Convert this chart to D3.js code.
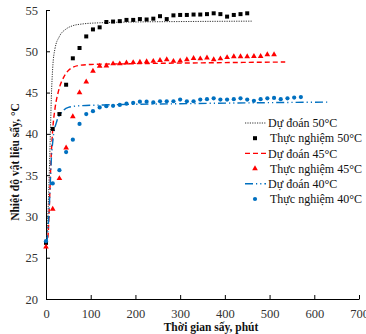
<!DOCTYPE html>
<html><head><meta charset="utf-8">
<script src="https://cdn.jsdelivr.net/npm/d3@7"></script>
<style>body{margin:0;background:#fff}svg{display:block}</style>
</head><body>
<svg id="c" width="366" height="334"></svg>
<script>
// ---- data ----
const xTicks = [0,100,200,300,400,500,600,700];
const yTicks = [20,25,30,35,40,45,50,55];
const times = d3.range(0, 571, 15); // sampling times (min)
const exp50 = [26.8,40.6,42.4,45.95,49.15,50.4,51.8,52.65,52.9,53.55,53.6,53.65,53.8,53.8,53.9,53.85,53.95,54.25,53.9,54.35,54.4,54.4,54.45,54.45,54.5,54.6,54.5,54.2,54.4,54.5,54.6];
const exp45 = [26.3,30.9,34.6,38.3,42.1,45.0,46.3,47.6,48.2,48.25,48.5,48.5,48.6,48.65,48.7,48.75,48.8,48.9,49.0,48.8,48.85,49.0,49.15,49.1,49.2,49.0,49.1,49.25,49.35,49.35,49.35,49.4,49.4,49.6,49.6];
const exp40 = [27.0,34.0,35.6,37.8,39.3,41.2,42.4,42.75,43.2,43.35,43.4,43.5,43.65,43.75,43.9,43.9,43.8,43.95,43.95,43.95,44.15,43.95,43.95,44.15,44.2,44.3,44.15,44.15,44.2,44.3,44.15,44.0,44.2,44.3,44.35,44.2,44.3,44.4,44.45];
const predT50 = [0,3,6,8,10,12,15,20,30,45,60,80,120,200,300,460];
const predV50 = [26.8,28.5,33,36.5,40.5,44.5,48,50.3,51.8,52.7,53.1,53.3,53.45,53.55,53.6,53.65];
const predT45 = [0,3,5,8,11,15,20,28,40,55,75,100,200,350,535];
const predV45 = [26.5,27,28,32,36.5,40.5,43,45.2,46.9,47.9,48.3,48.4,48.5,48.6,48.7];
const predT40 = [0,2,4,8,12,16,24,35,50,75,130,300,632];
const predV40 = [26.8,27,28,32,37,39.5,41.5,42.6,43.2,43.4,43.5,43.65,43.85];
const legendLabels = ["Dự đoán 50°C","Thực nghiệm  50°C","Dự đoán 45°C","Thực nghiệm  45°C","Dự đoán  40°C","Thực nghiệm  40°C"];

const red = "#ff0000", blue = "#0070c0", black = "#000";

const svg = d3.select("#c");
const x = d3.scaleLinear().domain([0,700]).range([46,359]);
const y = d3.scaleLinear().domain([20,55]).range([299,10]);
const font = "'Liberation Serif','Times New Roman',serif";

// axes
const gx = svg.append("g").attr("transform","translate(0,299)")
  .call(d3.axisBottom(x).tickValues(xTicks).tickSizeInner(-4).tickSizeOuter(0).tickPadding(10));
const gy = svg.append("g").attr("transform","translate(46,0)")
  .call(d3.axisLeft(y).tickValues(yTicks).tickSizeInner(-4).tickSizeOuter(0).tickPadding(8));
[gx,gy].forEach(g=>{
  g.selectAll("path,line").attr("stroke","#000").attr("stroke-width",1);
  g.selectAll("text").attr("font-family",font).attr("font-size",12.5).attr("fill","#333");
});

// prediction lines
const line = d3.line().x(d=>x(d[0])).y(d=>y(d[1])).curve(d3.curveMonotoneX);
const preds = [
  {t:predT50,v:predV50,color:"#333",dash:"1.2,1.2",w:1},
  {t:predT45,v:predV45,color:red,dash:"5,3",w:1.4},
  {t:predT40,v:predV40,color:blue,dash:"8,3,1.2,3,1.2,3",w:1.4}
];
preds.forEach(p=>{
  svg.append("path").datum(p.t.map((t,i)=>[t,p.v[i]]))
    .attr("d",line).attr("fill","none").attr("stroke",p.color)
    .attr("stroke-width",p.w).attr("stroke-dasharray",p.dash);
});

// experimental markers
const sq = d3.symbol().type(d3.symbolSquare).size(16);
const tri = d3.symbol().type(d3.symbolTriangle).size(14);
const circ = d3.symbol().type(d3.symbolCircle).size(14);
const exps = [
  {v:exp50,sym:sq,color:black},
  {v:exp45,sym:tri,color:red},
  {v:exp40,sym:circ,color:blue}
];
exps.forEach(e=>{
  svg.append("g").selectAll("path").data(e.v.map((v,i)=>[times[i],v])).join("path")
    .attr("transform",d=>`translate(${x(d[0])},${y(d[1])})`)
    .attr("d",e.sym()).attr("fill",e.color);
});

// legend
const lg = svg.append("g");
const ly0 = 123, ldy = 15.2;
legendLabels.forEach((lab,i)=>{
  const yy = ly0 + i*ldy;
  if(i%2===0){
    const p = preds[i/2];
    lg.append("line").attr("x1",245).attr("x2",266).attr("y1",yy).attr("y2",yy)
      .attr("stroke",p.color).attr("stroke-width",p.w).attr("stroke-dasharray",p.dash);
  } else {
    const e = exps[(i-1)/2];
    lg.append("path").attr("transform",`translate(255,${yy})`).attr("d",e.sym()).attr("fill",e.color);
  }
  lg.append("text").attr("x", i%2===0?268:270).attr("y",yy).attr("dy","0.35em")
    .attr("font-family",font).attr("font-size",12).attr("fill","#111").text(lab);
});

// axis titles
svg.append("text").attr("x",211).attr("y",331).attr("text-anchor","middle")
  .attr("font-family",font).attr("font-size",11.5).attr("font-weight","bold").attr("fill","#111")
  .text("Thời gian sấy, phút");
svg.append("text").attr("transform","translate(19,162) rotate(-90)").attr("text-anchor","middle")
  .attr("font-family",font).attr("font-size",11.5).attr("font-weight","bold").attr("fill","#111")
  .text("Nhiệt độ vật liệu sấy, °C");
</script>
</body></html>
